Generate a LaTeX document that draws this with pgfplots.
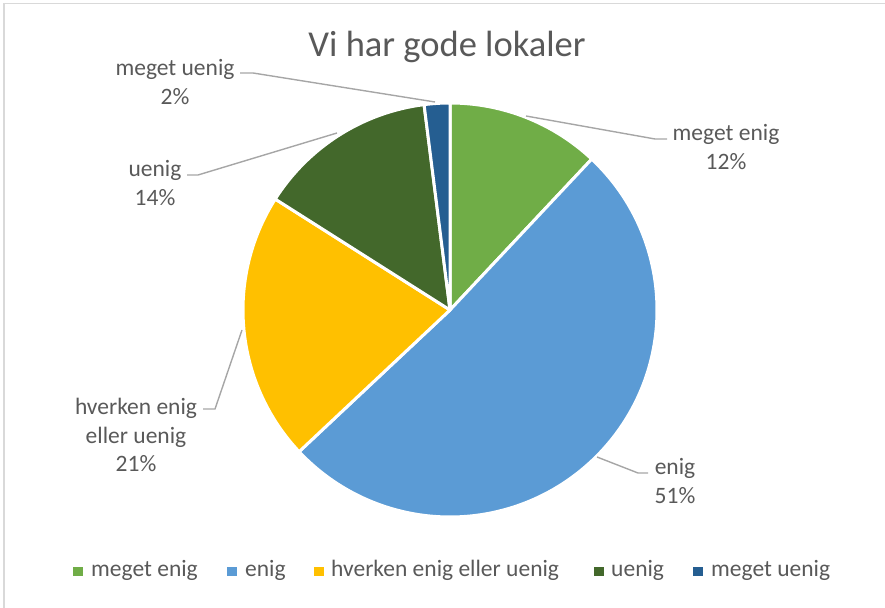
\documentclass[border=0pt]{standalone}
\usepackage{pgfplots}
\pgfplotsset{compat=1.18}
\usepackage{fontspec}
\setmainfont{Carlito}
\definecolor{mgreen}{HTML}{70AD47}
\definecolor{mblue}{HTML}{5B9BD5}
\definecolor{myellow}{HTML}{FFC000}
\definecolor{dgreen}{HTML}{43682B}
\definecolor{dblue}{HTML}{255E91}
\definecolor{txt}{HTML}{595959}
\definecolor{lead}{HTML}{A6A6A6}
\definecolor{frame}{HTML}{D9D9D9}
\begin{document}
\begin{tikzpicture}
\begin{axis}[
  at={(0,0)}, anchor=south west,
  scale only axis, width=885pt, height=607pt,
  xmin=0, xmax=885, ymin=0, ymax=607,
  hide axis, clip=false,
]
% frame
\draw[frame, line width=1.5pt] (axis cs:4,-20) -- (axis cs:4,603.5) -- (axis cs:900,603.5);
% pie slices: value (percent) / colour, clockwise from 12 o'clock
\def\startang{90}
\pgfplotsforeachungrouped \v/\c in {12/mgreen,51/mblue,21/myellow,14/dgreen,2/dblue} {
  \pgfmathsetmacro\endang{\startang-3.6*\v}
  \edef\tmp{\noexpand\fill[\c, draw=white, line width=3pt, line join=round] (axis cs:450,297) -- ++(\startang:207pt) arc[start angle=\startang, end angle=\endang, radius=207pt] -- cycle;}
  \tmp
  \global\let\startang\endang
}
% leader lines
\draw[lead, line width=1.4pt] (axis cs:240,534) -- (axis cs:253,534) -- (axis cs:435,505);
\draw[lead, line width=1.4pt] (axis cs:187,432) -- (axis cs:198,432) -- (axis cs:337,474);
\draw[lead, line width=1.4pt] (axis cs:526,491) -- (axis cs:655,468) -- (axis cs:667,468);
\draw[lead, line width=1.4pt] (axis cs:203,198) -- (axis cs:215,198) -- (axis cs:242,277);
\draw[lead, line width=1.4pt] (axis cs:597,150) -- (axis cs:638,134) -- (axis cs:648,134);
% data labels
\begin{scope}[every node/.style={text=txt, font=\fontsize{23.5}{28.7}\selectfont, align=center, inner sep=0pt}]
\node at (axis cs:726,460) {meget enig\\12\%};
\node at (axis cs:675,126) {enig\\51\%};
\node at (axis cs:136,172) {hverken enig\\eller uenig\\21\%};
\node at (axis cs:155,424) {uenig\\14\%};
\node at (axis cs:175,525) {meget uenig\\2\%};
\end{scope}
% title
\node[text=txt, font=\fontsize{36.5}{42}\selectfont, inner sep=0pt] at (axis cs:447,560) {Vi har gode lokaler};
% legend
\begin{scope}[every node/.style={text=txt, font=\fontsize{23.5}{28.7}\selectfont, inner sep=0pt, anchor=base west}]
\fill[mgreen] (axis cs:73,31) rectangle (axis cs:82.5,40.5);
\node at (axis cs:91,30.5) {meget enig};
\fill[mblue] (axis cs:227,31) rectangle (axis cs:236.5,40.5);
\node at (axis cs:245,30.5) {enig};
\fill[myellow] (axis cs:314,31) rectangle (axis cs:323.5,40.5);
\node at (axis cs:331,30.5) {hverken enig eller uenig};
\fill[dgreen] (axis cs:594,31) rectangle (axis cs:603.5,40.5);
\node at (axis cs:611,30.5) {uenig};
\fill[dblue] (axis cs:693,31) rectangle (axis cs:702.5,40.5);
\node at (axis cs:711,30.5) {meget uenig};
\end{scope}
\end{axis}
\pgfresetboundingbox
\path[use as bounding box] (0,0) rectangle (885pt,607pt);
\end{tikzpicture}
\end{document}
